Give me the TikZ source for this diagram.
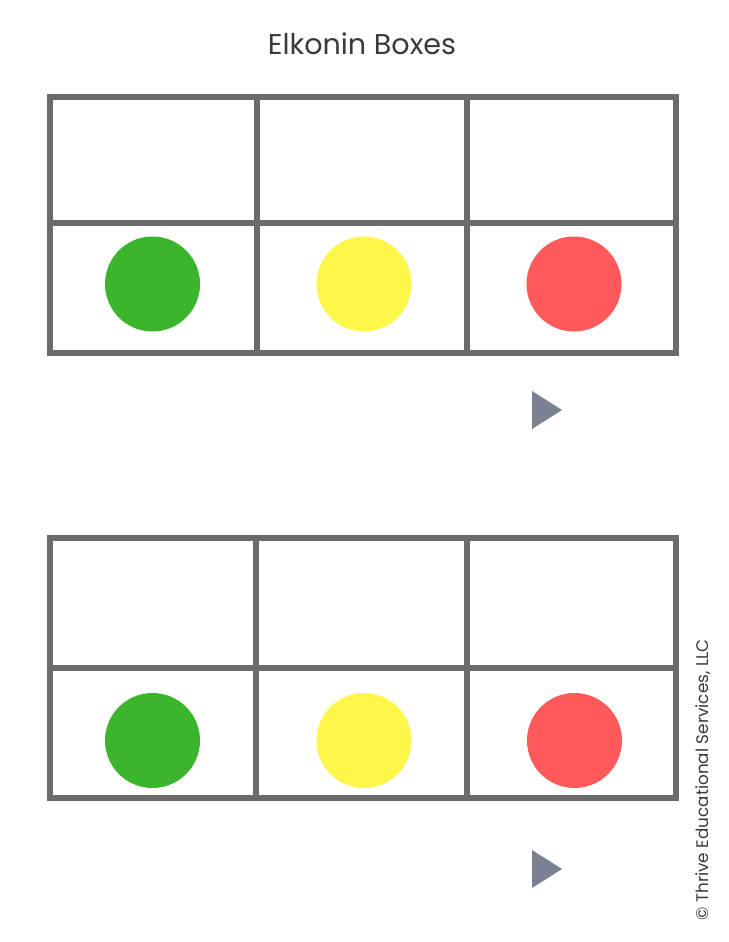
\documentclass[tikz,border=0pt]{standalone}
\usepackage{fontspec}
\setmainfont{Poppins}
\definecolor{gridgray}{HTML}{6B6B6B}
\definecolor{dotgreen}{HTML}{3AB52C}
\definecolor{dotyellow}{HTML}{FFF64A}
\definecolor{dotred}{HTML}{FF5A5A}
\definecolor{arrowgray}{HTML}{7A8292}
\definecolor{textgray}{HTML}{3A3A3A}
\tikzset{
  gridline/.style={draw=gridgray, line width=6pt, line cap=rect},
  dot/.style={circle, minimum size=95pt, inner sep=0pt},
  pointer/.style={fill=arrowgray},
}
\begin{document}
\begin{tikzpicture}[x=1pt,y=-1pt]
\useasboundingbox[fill=white] (0,0) rectangle (728,942);
\node[anchor=base, font=\fontsize{28.6}{32}\selectfont, text=textgray] (title) at (362,55) {Elkonin Boxes};
% top grid
\draw[gridline] (50,97) rectangle (676,353);
\draw[gridline] (50,223) -- (676,223);
\draw[gridline] (256.5,97) -- (256.5,353);
\draw[gridline] (466.5,97) -- (466.5,353);
\node[dot, fill=dotgreen] (g1) at (152.5,284) {};
\node[dot, fill=dotyellow] (y1) at (364,284) {};
\node[dot, fill=dotred] (r1) at (574,284) {};
\fill[pointer] (532,391) -- (532,429) -- (562,410) -- cycle;
% bottom grid
\draw[gridline] (50,538) rectangle (676,798);
\draw[gridline] (50,668) -- (676,668);
\draw[gridline] (255.5,538) -- (255.5,798);
\draw[gridline] (466.5,538) -- (466.5,798);
\node[dot, fill=dotgreen] (g2) at (152.5,740.5) {};
\node[dot, fill=dotyellow] (y2) at (364,740.5) {};
\node[dot, fill=dotred] (r2) at (574.5,740.5) {};
\fill[pointer] (532,850) -- (532,888) -- (562,869) -- cycle;
\node[rotate=90, anchor=base, font=\fontsize{16.8}{20}\selectfont, text=textgray] (copy) at (708,780) {© Thrive Educational Services, LLC};
\end{tikzpicture}
\end{document}
